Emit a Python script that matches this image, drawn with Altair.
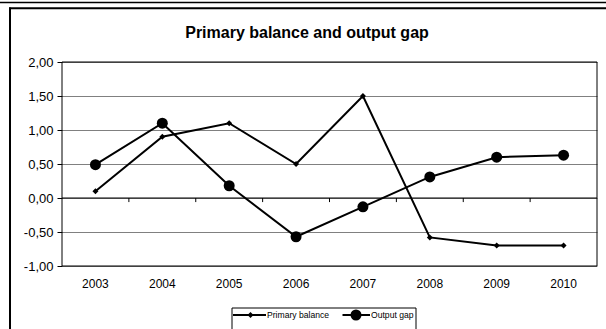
import altair as alt
import pandas as pd

# Series values per year
YEARS = ["2003", "2004", "2005", "2006", "2007", "2008", "2009", "2010"]
SERIES = ["Primary balance", "Output gap"]
PRIMARY_BALANCE = [0.10, 0.90, 1.10, 0.50, 1.50, -0.58, -0.70, -0.70]
OUTPUT_GAP = [0.49, 1.10, 0.18, -0.57, -0.13, 0.31, 0.60, 0.63]
Y_TICKS = [-1.0, -0.5, 0.0, 0.5, 1.0, 1.5, 2.0]
TITLE = "Primary balance and output gap"

FONT = "Liberation Sans"
W, H = 535, 204

rows = []
for name, vals in zip(SERIES, [PRIMARY_BALANCE, OUTPUT_GAP]):
    for yr, v in zip(YEARS, vals):
        rows.append({"year": yr, "series": name, "value": v})
df = pd.DataFrame(rows)

x_scale = alt.Scale(domain=YEARS, paddingInner=0, paddingOuter=0)
y_scale = alt.Scale(domain=[-1, 2], nice=False, zero=False)

x_axis = alt.Axis(
    labelAngle=0, ticks=False, tickSize=0, domain=False, grid=False,
    labelPadding=12, labelFont=FONT, labelFontSize=12, labelColor="black",
    labelOverlap=False,
)
y_axis = alt.Axis(
    values=Y_TICKS, domain=False, grid=True, gridColor="#808080", gridWidth=1,
    tickColor="black", tickSize=5, labelPadding=4, labelFont=FONT,
    labelFontSize=13, labelColor="black", labelOverlap=False,
    labelExpr="replace(replace(format(datum.value, '.2f'), '.', ','), '\u2212', '-')",
)


def xe(field="year:N", **kw):
    return alt.X(field, scale=x_scale, axis=x_axis, title=None, **kw)


def ye(field):
    return alt.Y(field, scale=y_scale, axis=y_axis, title=None)


base = alt.Chart(df)

# zero line and small category ticks on it
zero = alt.Chart(pd.DataFrame({"v": [0]})).mark_rule(color="black", strokeWidth=1).encode(
    y=ye("v:Q")
)
tick_df = pd.DataFrame({"year": YEARS[1:], "lo": [0.0] * 7, "hi": [-0.06] * 7})
cat_ticks = alt.Chart(tick_df).mark_rule(color="black", strokeWidth=1).encode(
    x=xe(bandPosition=0),
    y=ye("lo:Q"),
    y2="hi:Q",
)

lines = base.mark_line(color="black", strokeWidth=2).encode(
    x=xe(), y=ye("value:Q"), detail="series:N"
)
points = base.mark_point(filled=True, color="black", opacity=1).encode(
    x=xe(),
    y=ye("value:Q"),
    shape=alt.Shape("series:N", scale=alt.Scale(domain=SERIES, range=["diamond", "circle"]), legend=None),
    size=alt.Size("series:N", scale=alt.Scale(domain=SERIES, range=[36, 121]), legend=None),
)

one = pd.DataFrame({"k": [0]})

# plot-area frame drawn above the grid
plot_frame = alt.Chart(one).mark_rect(fill=None, stroke="black", strokeWidth=1).encode(
    x=alt.value(0), x2=alt.value(W), y=alt.value(0), y2=alt.value(H)
)

# chart-area border: double rule on top, single on the left
frame = alt.layer(
    alt.Chart(one).mark_rule(color="black", strokeWidth=1.5).encode(
        x=alt.value(-62), x2=alt.value(W + 9), y=alt.value(-59.5)),
    alt.Chart(one).mark_rule(color="black", strokeWidth=2).encode(
        x=alt.value(-53), x2=alt.value(W + 9), y=alt.value(-53.7)),
    alt.Chart(one).mark_rule(color="black", strokeWidth=2).encode(
        x=alt.value(-52), y=alt.value(-54.5), y2=alt.value(H + 80)),
)

title = alt.Chart(one).mark_text(
    align="center", baseline="alphabetic", font=FONT, fontSize=16, fontWeight="bold", color="black"
).encode(x=alt.value(245), y=alt.value(-24.5), text=alt.value(TITLE))

# legend box with line + marker samples
lg_y = 253
legend = alt.layer(
    alt.Chart(one).mark_rect(fill="white", stroke="black", strokeWidth=1).encode(
        x=alt.value(170), x2=alt.value(354), y=alt.value(246), y2=alt.value(H + 80)),
    alt.Chart(one).mark_rule(color="black", strokeWidth=2).encode(
        x=alt.value(171), x2=alt.value(204), y=alt.value(lg_y)),
    alt.Chart(one).mark_point(shape="diamond", filled=True, color="black", size=36, opacity=1).encode(
        x=alt.value(188.5), y=alt.value(lg_y)),
    alt.Chart(one).mark_text(align="left", baseline="middle", font=FONT, fontSize=8.6, color="black").encode(
        x=alt.value(205), y=alt.value(lg_y), text=alt.value(SERIES[0])),
    alt.Chart(one).mark_rule(color="black", strokeWidth=2).encode(
        x=alt.value(280.5), x2=alt.value(308), y=alt.value(lg_y)),
    alt.Chart(one).mark_point(shape="circle", filled=True, color="black", size=121, opacity=1).encode(
        x=alt.value(294), y=alt.value(lg_y)),
    alt.Chart(one).mark_text(align="left", baseline="middle", font=FONT, fontSize=8.6, color="black").encode(
        x=alt.value(309), y=alt.value(lg_y), text=alt.value(SERIES[1])),
)

chart = alt.layer(lines, zero, cat_ticks, points, plot_frame, frame, title, legend).properties(
    width=W,
    height=H,
    background="white",
    autosize=alt.AutoSizeParams(type="none"),
    padding={"left": 62, "top": 62, "right": 9, "bottom": 63},
).configure_view(stroke=None)

chart.save("out.html", embed_options={"renderer": "svg", "actions": False})
